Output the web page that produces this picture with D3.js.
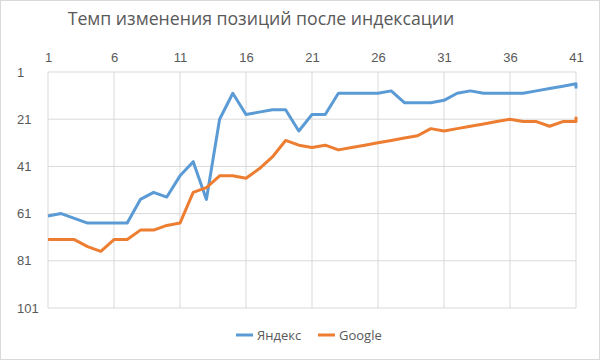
<!DOCTYPE html>
<html><head><meta charset="utf-8">
<script src="https://cdn.jsdelivr.net/npm/d3@7"></script>
<style>body{margin:0;background:#fff}svg{display:block}</style>
</head><body>
<script>
const days = [1,2,3,4,5,6,7,8,9,10,11,12,13,14,15,16,17,18,19,20,21,22,23,24,25,26,27,28,29,30,31,32,33,34,35,36,37,38,39,40,41,41];
const yandex = [62,61,63,65,65,65,65,55,52,54,45,39,55,21,10,19,18,17,17,26,19,19,10,10,10,10,9,14,14,14,13,10,9,10,10,10,10,9,8,7,6,8];
const google = [72,72,72,75,77,72,72,68,68,66,65,52,50,45,45,46,42,37,30,32,33,32,34,33,32,31,30,29,28,25,26,25,24,23,22,21,22,22,24,22,22,20];
const xTicks = [1,6,11,16,21,26,31,36,41];
const yTicks = [1,21,41,61,81,101];
const seriesNames = ["Яндекс","Google"];
const colors = ["#5B9BD5","#ED7D31"];
const title = "Темп изменения позиций после индексации";

const W=600,H=360, L=48, R=576, T=72, B=308;
const svg = d3.select("body").append("svg").attr("width",W).attr("height",H)
  .style("font-family","'Open Sans', sans-serif");
svg.append("rect").attr("x",0.5).attr("y",0.5).attr("width",W-1).attr("height",H-1)
  .attr("fill","#fff").attr("stroke","#D9D9D9");

const x = d3.scaleLinear().domain([1,41]).range([L,R]);
const y = d3.scaleLinear().domain([1,101]).range([T,B]);

// gridlines
svg.append("g").selectAll("line").data(xTicks).join("line")
  .attr("x1",d=>x(d)).attr("x2",d=>x(d)).attr("y1",T).attr("y2",B)
  .attr("stroke","#D9D9D9").attr("stroke-width",1);
svg.append("g").selectAll("line").data(yTicks).join("line")
  .attr("x1",L).attr("x2",R).attr("y1",d=>y(d)).attr("y2",d=>y(d))
  .attr("stroke","#D9D9D9").attr("stroke-width",1);

// axes labels
const xAxis = svg.append("g").attr("transform",`translate(0,${T})`)
  .call(d3.axisTop(x).tickValues(xTicks).tickSize(0).tickPadding(10).tickFormat(d3.format("d")));
xAxis.select(".domain").remove();
xAxis.selectAll("text").attr("fill","#595959").style("font-size","13px");

const yAxis = svg.append("g").attr("transform",`translate(${L},0)`)
  .call(d3.axisLeft(y).tickValues(yTicks).tickSize(0).tickFormat(d3.format("d")));
yAxis.select(".domain").remove();
yAxis.selectAll("text").attr("fill","#595959").style("font-size","13px")
  .attr("text-anchor","start").attr("x",17-L);

// lines
const line = d3.line().x((d,i)=>x(days[i])).y(d=>y(d));
[yandex,google].forEach((s,k)=>{
  svg.append("path").datum(s).attr("d",line).attr("fill","none")
    .attr("stroke",colors[k]).attr("stroke-width",3).attr("stroke-linejoin","round");
});

// title
svg.append("text").attr("x",261).attr("y",25).attr("text-anchor","middle")
  .attr("fill","#595959").style("font-size","17.7px").text(title);

// legend
const leg = svg.append("g");
const legX=[236,318];
seriesNames.forEach((n,k)=>{
  leg.append("line").attr("x1",legX[k]).attr("x2",legX[k]+17).attr("y1",335).attr("y2",335)
    .attr("stroke",colors[k]).attr("stroke-width",3);
  leg.append("text").attr("x",legX[k]+21).attr("y",339.5).attr("fill","#595959")
    .style("font-size","13px").text(n);
});
</script>
</body></html>
